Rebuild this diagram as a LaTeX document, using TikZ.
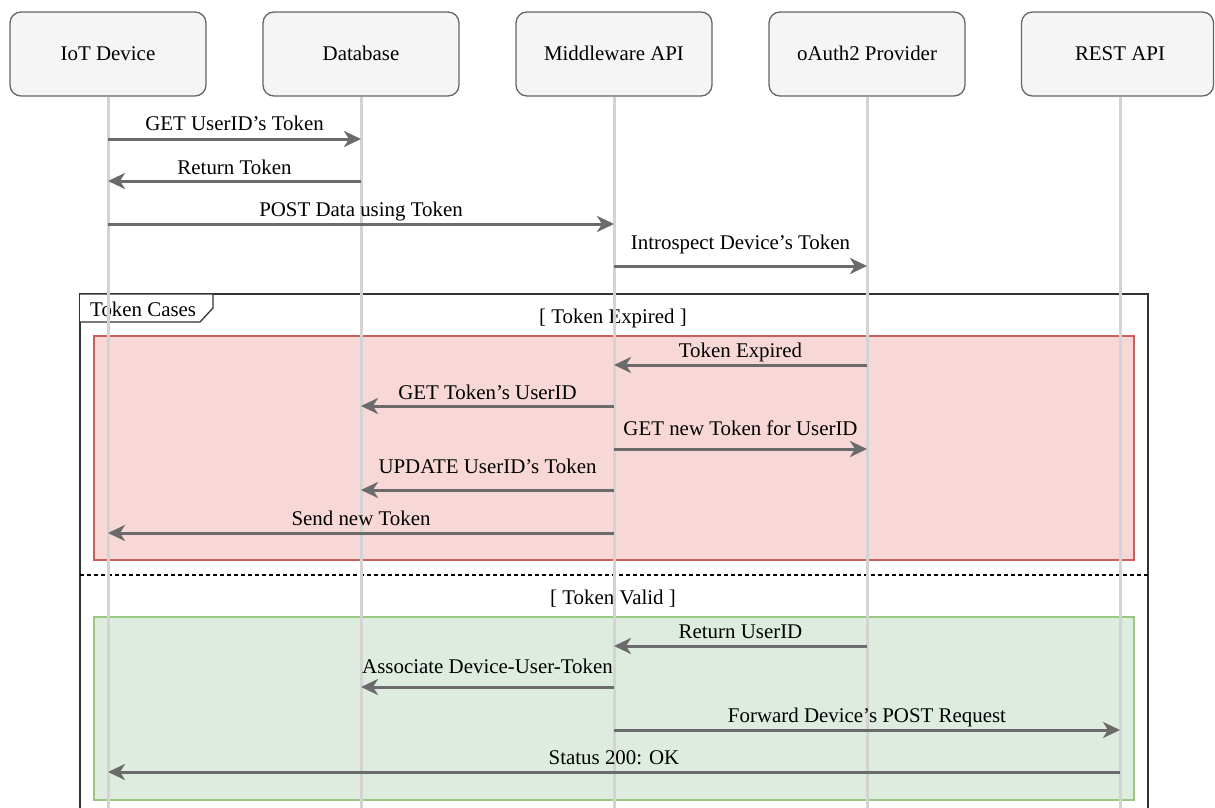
\documentclass[tikz,border=0pt]{standalone}
\usepackage{fontspec}
\setmainfont{Liberation Serif}
\usetikzlibrary{arrows.meta}

\definecolor{lifegray}{HTML}{D3D3D3}
\definecolor{msggray}{HTML}{6B6B6B}
\definecolor{hdrfill}{HTML}{F5F5F5}
\definecolor{hdrline}{HTML}{666666}
\definecolor{expfill}{HTML}{F8D7D7}
\definecolor{expline}{HTML}{C8605C}
\definecolor{okfill}{HTML}{DEECDF}
\definecolor{okline}{HTML}{9AC782}
\definecolor{framecol}{HTML}{333333}

% one message: name, from lifeline, to lifeline, arrow y, label baseline y, text
\newcommand\seqmsg[6]{%
  \draw[msgarrow] (#2 |- 0,#4) -- node[msglabel, midway, yshift={(#4-#5)*1pt}] (#1) {#6} (#3 |- 0,#4);%
}

\begin{document}
\begin{tikzpicture}[x=1pt, y=-1pt,
  font=\fontsize{20.9}{25}\selectfont,
  actor/.style={draw=hdrline, fill=hdrfill, rounded corners=11pt, line width=1.3pt,
    minimum width=196pt, minimum height=84pt, inner sep=0pt,
    text height=15pt, text depth=3pt},
  lifeline/.style={draw=lifegray, line width=3pt},
  msgarrow/.style={draw=msggray, line width=3pt,
    -{Stealth[length=17pt, width=16pt, inset=5pt]}},
  msglabel/.style={anchor=base, inner sep=0pt},
  guard/.style={anchor=base, inner sep=0pt},
  region/.style={line width=1.3pt}]

\useasboundingbox (0,0) rectangle (1215,808);
\clip (0,0) rectangle (1215,808);

% participants
\node[actor] (dev)  at (108,54)  {IoT Device};
\node[actor] (db)   at (361,54)  {Database};
\node[actor] (mw)   at (614,54)  {Middleware API};
\node[actor] (oa)   at (867,54)  {oAuth2 Provider};
\node[actor, minimum width=192pt] (rest) at (1117.5,54) {};
\node[text height=15pt, text depth=3pt, inner sep=0pt] (restname) at (1120,54) {REST API};

% lifeline axes
\coordinate (devL)  at (108,0);
\coordinate (dbL)   at (361,0);
\coordinate (mwL)   at (614,0);
\coordinate (oaL)   at (867,0);
\coordinate (restL) at (1120,0);

% combined fragment
\draw[framecol, line width=1.5pt] (80,294) rectangle (1148,840);
\draw[region, draw=expline, fill=expfill] (94,336) rectangle (1134,560);
\draw[region, draw=okline, fill=okfill] (94,617) rectangle (1134,800);
\draw[black, line width=1.3pt, dash pattern=on 4pt off 3pt] (80,575) -- (1148,575);
\draw[framecol, line width=1.3pt, fill=white]
  (80,294) -- (213,294) -- (213,308) -- (200,322) -- (80,322);
\node[anchor=base west, inner sep=0pt] (fragname) at (90,316) {Token Cases};
\node[guard] (guardA) at (613,323) {[ Token Expired ]};
\node[guard] (guardB) at (613,604) {[ Token Valid ]};

% lifelines
\foreach \a in {dev,db,mw,oa,rest}
  \draw[lifeline] (\a L |- \a.south) -- (\a L |- 0,830);

% messages
\seqmsg{m1}{devL}{dbL}{139}{130}{GET UserID’s Token}
\seqmsg{m2}{dbL}{devL}{181}{174}{Return Token}
\seqmsg{m3}{devL}{mwL}{224}{216}{POST Data using Token}
\seqmsg{m4}{mwL}{oaL}{266}{249}{Introspect Device’s Token}
\seqmsg{m5}{oaL}{mwL}{365}{357}{Token Expired}
\seqmsg{m6}{mwL}{dbL}{406}{399}{GET Token’s UserID}
\seqmsg{m7}{mwL}{oaL}{449}{435}{GET new Token for UserID}
\seqmsg{m8}{mwL}{dbL}{490}{473}{UPDATE UserID’s Token}
\seqmsg{m9}{mwL}{devL}{533}{525}{Send new Token}
\seqmsg{m10}{oaL}{mwL}{646}{638}{Return UserID}
\seqmsg{m11}{mwL}{dbL}{687}{673}{Associate Device-User-Token}
\seqmsg{m12}{mwL}{restL}{730}{722}{Forward Device’s POST Request}
\seqmsg{m13}{restL}{devL}{772}{764}{Status 200: OK}

\end{tikzpicture}
\end{document}
